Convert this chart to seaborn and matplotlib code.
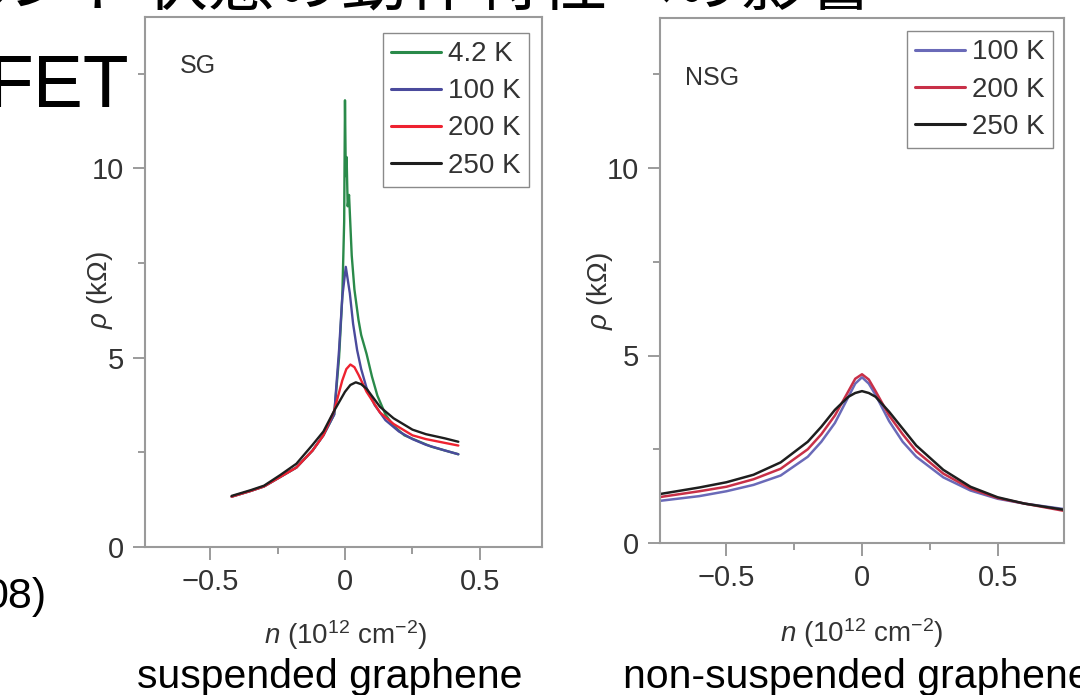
import numpy as np
import pandas as pd
import matplotlib
matplotlib.use("Agg")
import matplotlib.pyplot as plt
import seaborn as sns

# ---------------- data ----------------
# Suspended graphene (SG)
sg_n_42 = [-0.42, -0.35, -0.30, -0.24, -0.18, -0.12, -0.08, -0.04, -0.022, -0.01, -0.003, 0.0,
           0.003, 0.006, 0.01, 0.015, 0.02, 0.025, 0.035, 0.05, 0.06, 0.08, 0.10, 0.12, 0.15,
           0.18, 0.22, 0.27, 0.32, 0.37, 0.42]
sg_r_42 = [1.33, 1.48, 1.60, 1.85, 2.10, 2.55, 2.95, 3.50, 5.0, 6.6, 8.6, 11.8,
           9.8, 10.3, 9.0, 9.3, 8.5, 7.7, 6.8, 6.0, 5.6, 5.1, 4.5, 4.0, 3.5,
           3.2, 2.95, 2.8, 2.65, 2.55, 2.45]

sg_n_100 = [-0.42, -0.35, -0.30, -0.24, -0.18, -0.12, -0.08, -0.04, -0.022, -0.01, 0.003,
            0.018, 0.03, 0.045, 0.06, 0.08, 0.11, 0.15, 0.20, 0.25, 0.30, 0.37, 0.42]
sg_r_100 = [1.33, 1.48, 1.60, 1.85, 2.10, 2.55, 2.95, 3.50, 5.2, 6.6, 7.4,
            6.7, 5.9, 5.2, 4.7, 4.2, 3.75, 3.35, 3.05, 2.85, 2.7, 2.55, 2.45]

sg_n_200 = [-0.42, -0.35, -0.30, -0.24, -0.18, -0.12, -0.08, -0.04, -0.01, 0.005, 0.02, 0.035,
            0.05, 0.08, 0.13, 0.18, 0.25, 0.30, 0.37, 0.42]
sg_r_200 = [1.33, 1.48, 1.60, 1.85, 2.10, 2.55, 2.95, 3.60, 4.40, 4.70, 4.82, 4.75,
            4.55, 4.10, 3.55, 3.25, 2.95, 2.85, 2.75, 2.68]

sg_n_250 = [-0.42, -0.35, -0.30, -0.24, -0.18, -0.12, -0.08, -0.04, 0.0, 0.02, 0.04, 0.06, 0.08,
            0.13, 0.18, 0.25, 0.30, 0.37, 0.42]
sg_r_250 = [1.35, 1.50, 1.62, 1.90, 2.20, 2.70, 3.05, 3.60, 4.10, 4.28, 4.35, 4.30, 4.18,
            3.70, 3.40, 3.10, 2.98, 2.87, 2.78]

# Non-suspended graphene (NSG)
nsg_n = [-0.75, -0.60, -0.50, -0.40, -0.30, -0.20, -0.15, -0.10, -0.05, -0.025, 0.0,
         0.025, 0.05, 0.10, 0.15, 0.20, 0.30, 0.40, 0.50, 0.60, 0.75]
nsg_r_100 = [1.12, 1.25, 1.38, 1.55, 1.80, 2.30, 2.70, 3.20, 3.90, 4.25, 4.42,
             4.25, 3.95, 3.25, 2.70, 2.30, 1.75, 1.40, 1.18, 1.05, 0.90]
nsg_r_200 = [1.22, 1.38, 1.50, 1.70, 1.98, 2.50, 2.90, 3.40, 4.05, 4.38, 4.50,
             4.36, 4.05, 3.40, 2.90, 2.45, 1.85, 1.45, 1.20, 1.05, 0.85]
nsg_r_250 = [1.30, 1.48, 1.62, 1.82, 2.15, 2.70, 3.10, 3.55, 3.90, 4.00, 4.05,
             4.00, 3.90, 3.50, 3.05, 2.60, 1.95, 1.50, 1.22, 1.05, 0.88]

sg_labels = ["4.2 K", "100 K", "200 K", "250 K"]
nsg_labels = ["100 K", "200 K", "250 K"]
x_ticks = [-0.5, 0, 0.5]
x_ticklabels = ["\u22120.5", "0", "0.5"]
y_ticks = [0, 5, 10]

sg_colors = ["#2a8a4a", "#4a4a9c", "#ee2230", "#1e1e1e"]
nsg_colors = ["#6a6ab8", "#c83048", "#1e1e1e"]

# ---------------- styling ----------------
sns.set_style("white")
SANS = ["Liberation Sans", "DejaVu Sans"]
plt.rcParams["font.family"] = SANS
plt.rcParams["mathtext.fontset"] = "custom"
plt.rcParams["mathtext.rm"] = "Liberation Sans"
plt.rcParams["mathtext.it"] = "Liberation Sans:italic"
plt.rcParams["mathtext.bf"] = "Liberation Sans:bold"

fig = plt.figure(figsize=(10.8, 6.95), dpi=100)
fig.patch.set_facecolor("white")

ax1 = fig.add_axes([145 / 1080, 1 - 547 / 695, 397 / 1080, 530 / 695])
ax2 = fig.add_axes([660 / 1080, 1 - 543 / 695, 404 / 1080, 525 / 695])

df_sg = pd.concat([
    pd.DataFrame({"n": sg_n_42, "rho": sg_r_42, "T": sg_labels[0]}),
    pd.DataFrame({"n": sg_n_100, "rho": sg_r_100, "T": sg_labels[1]}),
    pd.DataFrame({"n": sg_n_200, "rho": sg_r_200, "T": sg_labels[2]}),
    pd.DataFrame({"n": sg_n_250, "rho": sg_r_250, "T": sg_labels[3]}),
], ignore_index=True)

df_nsg = pd.concat([
    pd.DataFrame({"n": nsg_n, "rho": nsg_r_100, "T": nsg_labels[0]}),
    pd.DataFrame({"n": nsg_n, "rho": nsg_r_200, "T": nsg_labels[1]}),
    pd.DataFrame({"n": nsg_n, "rho": nsg_r_250, "T": nsg_labels[2]}),
], ignore_index=True)

sns.lineplot(data=df_sg, x="n", y="rho", hue="T", hue_order=sg_labels,
             palette=dict(zip(sg_labels, sg_colors)), estimator=None, sort=False,
             linewidth=1.7, legend=False, ax=ax1)
sns.lineplot(data=df_nsg, x="n", y="rho", hue="T", hue_order=nsg_labels,
             palette=dict(zip(nsg_labels, nsg_colors)), estimator=None, sort=False,
             linewidth=1.8, legend=False, ax=ax2)

for ax, labels, colors, anchor in [(ax1, sg_labels, sg_colors, (0.967, 0.97)),
                                   (ax2, nsg_labels, nsg_colors, (0.973, 0.975))]:
    handles = [plt.Line2D([], [], color=c, lw=2.2) for c in colors]
    leg = ax.legend(handles, labels, loc="upper right", frameon=True, fancybox=False,
                    edgecolor="#8a8a8a", framealpha=1, handlelength=1.8,
                    handletextpad=0.25, labelspacing=0.4, borderpad=0.3,
                    borderaxespad=0.0, prop={"family": SANS, "size": 20},
                    bbox_to_anchor=anchor)
    for t in leg.get_texts():
        t.set_color("#333333")

for ax, xl in [(ax1, (-0.741, 0.730)), (ax2, (-0.745, 0.745))]:
    ax.set_xlim(*xl)
    ax.set_ylim(0, 14)
    ax.set_xticks(x_ticks)
    ax.set_xticklabels(x_ticklabels)
    ax.set_xticks([-0.25, 0.25], minor=True)
    ax.set_yticks(y_ticks)
    ax.set_yticks([2.5, 7.5, 12.5], minor=True)
    ax.tick_params(axis="both", which="major", direction="out", length=9, width=1.2,
                   color="#8a8a8a", labelsize=21, labelcolor="#333333", pad=6,
                   bottom=True, left=True)
    ax.tick_params(axis="both", which="minor", direction="out", length=5, width=1.2,
                   color="#8a8a8a", bottom=True, left=True)
    for s in ax.spines.values():
        s.set_color("#9a9a9a")
        s.set_linewidth(1.5)
    ax.set_xlabel(r"$\it{n}$ (10$^{12}$ cm$^{-2}$)", fontsize=20, color="#333333")
    ax.set_ylabel(r"$\it{\rho}$ (k$\Omega$)", fontsize=20, color="#333333")

ax1.xaxis.set_label_coords(0.505, -0.135)
ax2.xaxis.set_label_coords(0.50, -0.140)
ax1.yaxis.set_label_coords(-0.075, 0.485)
ax2.yaxis.set_label_coords(-0.112, 0.48)

ax1.text(0.088, 0.894, "SG", transform=ax1.transAxes, fontsize=18, color="#333333")
ax2.text(0.062, 0.872, "NSG", transform=ax2.transAxes, fontsize=18, color="#333333")

# slide text around the figure
fig.text(875 / 1080, 1 - 5 / 695, "サスペンド状態の動作特性への影響", ha="right", va="baseline",
         fontsize=48, family=["Noto Sans CJK JP", "DejaVu Sans"], color="black")
fig.text(130 / 1080, 1 - 107 / 695, "FET", ha="right", va="baseline", fontsize=54,
         family=SANS, color="black")
fig.text(47 / 1080, 1 - 608 / 695, "08)", ha="right", va="baseline", fontsize=31,
         family=SANS, color="black")
fig.text(330 / 1080, 1 - 688 / 695, "suspended graphene", ha="center", va="baseline",
         fontsize=29.5, family=SANS, color="black")
fig.text(623 / 1080, 1 - 688 / 695, "non-suspended graphene", ha="left", va="baseline",
         fontsize=29.5, family=SANS, color="black")

fig.savefig("out.png", dpi=100, facecolor="white")
